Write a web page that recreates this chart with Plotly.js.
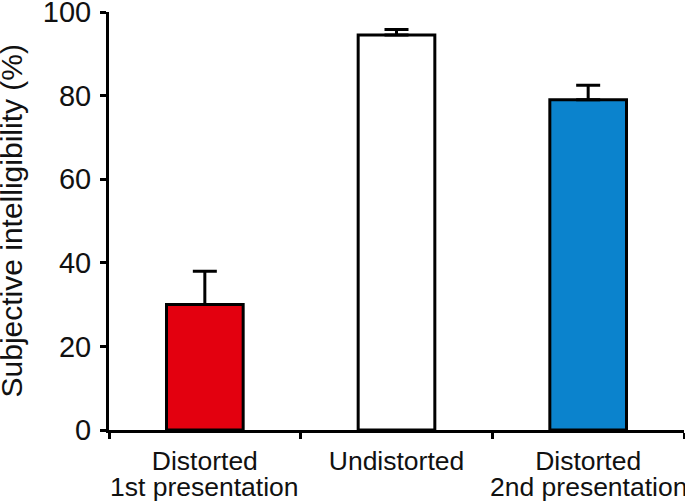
<!DOCTYPE html>
<html>
<head>
<meta charset="utf-8">
<script src="https://cdn.plot.ly/plotly-3.0.1.min.js"></script>
<style>
  html, body { margin: 0; padding: 0; background: #ffffff; }
  #chart { width: 685px; height: 502px; }
</style>
</head>
<body>
<div id="chart"></div>
<script>
// Chart data
const categories = ['Distorted 1st presentation', 'Undistorted', 'Distorted 2nd presentation'];
const tickLine1 = ['Distorted', 'Undistorted', 'Distorted'];
const tickLine2 = ['1st presentation', '', '2nd presentation'];
const intelligibility = [30, 94.5, 79];
const errorUp = [8, 1.3, 3.5];
const barColors = ['#e3000f', '#ffffff', '#0b83cd'];
const yTitle = 'Subjective intelligibility (%)';

const font = 'Liberation Sans, Arial, Helvetica, sans-serif';
const marginL = 109;
const plotW = 685 - marginL - 1;

// Second line of each category label, kept tight under the first one
const annotations = categories.map((cat, i) => ({
  x: cat,
  y: 0,
  xref: 'x',
  yref: 'paper',
  yanchor: 'top',
  yshift: -41,
  borderpad: 0,
  text: tickLine2[i],
  showarrow: false,
  font: { family: font, size: 26.5, color: '#111111' },
})).filter(a => a.text);

// y axis title pinned close to the left edge
annotations.push({
  x: -marginL / plotW,
  y: 0.5,
  xref: 'paper',
  yref: 'paper',
  xanchor: 'left',
  yanchor: 'middle',
  xshift: -7,
  textangle: -90,
  borderpad: 0,
  text: yTitle,
  showarrow: false,
  font: { family: font, size: 30, color: '#111111' },
});

Plotly.newPlot('chart', [
  {
    x: categories,
    y: intelligibility,
    type: 'bar',
    width: 0.4,
    marker: {
      color: barColors,
      line: { color: '#000000', width: 3 },
    },
    error_y: {
      type: 'data',
      symmetric: false,
      array: errorUp,
      arrayminus: [0, 0, 0],
      color: '#000000',
      thickness: 3,
      width: 12,
    },
    hoverinfo: 'none',
  },
], {
  width: 685,
  height: 502,
  margin: { t: 12, r: 1, l: marginL, b: 72 },
  paper_bgcolor: '#ffffff',
  plot_bgcolor: '#ffffff',
  showlegend: false,
  font: { family: font, color: '#111111' },
  xaxis: {
    type: 'category',
    range: [-0.5, 2.5],
    tickvals: categories,
    ticktext: tickLine1,
    tickson: 'boundaries',
    ticks: 'outside',
    ticklen: 6,
    tickwidth: 3,
    tickcolor: '#000000',
    ticklabelstandoff: 5,
    showline: true,
    linecolor: '#000000',
    linewidth: 3,
    showgrid: false,
    zeroline: false,
    tickfont: { family: font, size: 26.5, color: '#111111' },
    fixedrange: true,
  },
  yaxis: {
    range: [0, 100],
    tickmode: 'linear',
    tick0: 0,
    dtick: 20,
    ticks: 'outside',
    ticklen: 6,
    tickwidth: 3,
    tickcolor: '#000000',
    ticklabelstandoff: 3,
    ticklabeloverflow: 'allow',
    showline: true,
    linecolor: '#000000',
    linewidth: 3,
    showgrid: false,
    zeroline: false,
    tickfont: { family: font, size: 29, color: '#111111' },
    fixedrange: true,
  },
  annotations: annotations,
}, { displayModeBar: false, staticPlot: true });
</script>
</body>
</html>
